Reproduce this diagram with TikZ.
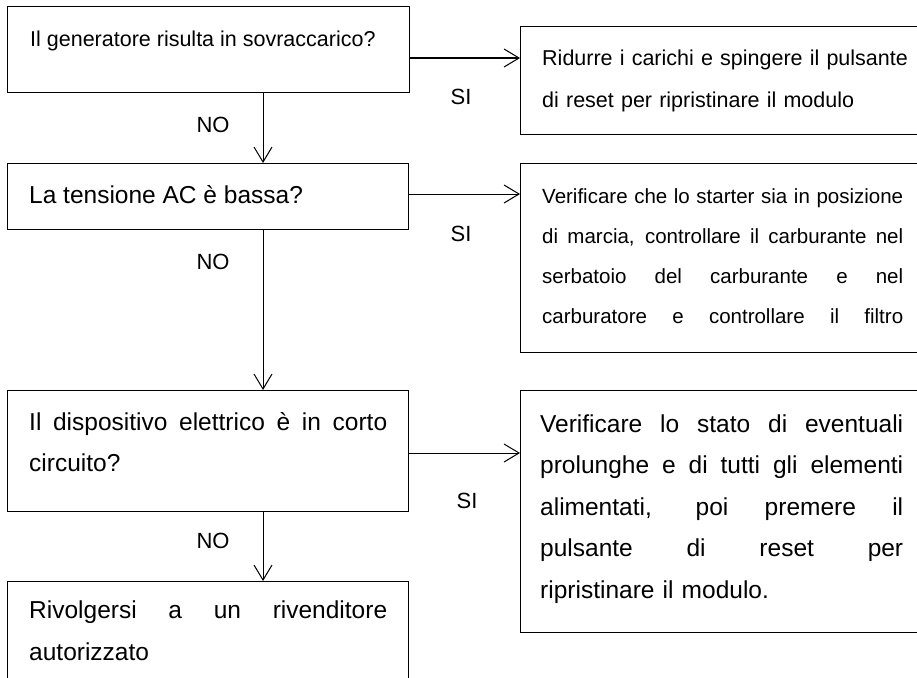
\documentclass[tikz,border=0pt]{standalone}
\usepackage{fontspec}
\setmainfont{Liberation Sans}
\usetikzlibrary{arrows.meta}
\newcommand{\jline}[2]{\leavevmode\hbox to #1{\spaceskip=0.25em plus 1fil\relax #2}}
\begin{document}
\begin{tikzpicture}[x=1pt,y=-1pt,
  box/.style={draw=black, line width=1pt, anchor=north west, inner sep=0pt, outer sep=0pt},
  txt/.style={anchor=base west, inner sep=0pt, align=left},
  small/.style={font=\fontsize{21.5}{42}\selectfont},
  mid/.style={font=\fontsize{20.5}{40}\selectfont},
  big/.style={font=\fontsize{24.5}{41}\selectfont},
  arr/.style={line width=1pt, -{Straight Barb[length=15pt,width=18pt,line width=1pt]}},
  lbl/.style={inner sep=0pt, font=\fontsize{22}{26}\selectfont}]
\useasboundingbox (0,0) rectangle (917,677);
\fill[white] (0,0) rectangle (917,677);
\clip (0,0) rectangle (917,677);

% left column boxes
\node[box, minimum width=402pt, minimum height=85pt] (b1) at (7,7) {};
\node[box, minimum width=401pt, minimum height=66pt] (b2) at (7,163) {};
\node[box, minimum width=401pt, minimum height=121pt] (b3) at (7,390) {};
\node[box, minimum width=401pt, minimum height=150pt] (b4) at (7,581) {};
% right column boxes
\node[box, minimum width=420pt, minimum height=107pt] (r1) at (520,27) {};
\node[box, minimum width=420pt, minimum height=189pt] (r2) at (520,163) {};
\node[box, minimum width=420pt, minimum height=242pt] (r3) at (520,390) {};

% texts
\node[txt, small] (t1) at (30,46) {Il generatore risulta in sovraccarico?};
\node[txt, big] (t2) at (29,203) {La tensione AC è bassa?};
\node[txt, big, text width=380pt] (t3) at (29,430) {\jline{358pt}{Il dispositivo elettrico è in corto}\\circuito?};
\node[txt, text width=380pt, font=\fontsize{24.5}{42}\selectfont] (t4) at (29,618) {\jline{358pt}{Rivolgersi a un rivenditore}\\autorizzato};
\node[txt, small, text width=380pt] (u1) at (542,66) {Ridurre i carichi e spingere il pulsante\\di reset per ripristinare il modulo};
\node[txt, mid, text width=380pt] (u2) at (542,203) {\jline{361pt}{Verificare che lo starter sia in posizione}\\\jline{361pt}{di marcia, controllare il carburante nel}\\\jline{361pt}{serbatoio del carburante e nel}\\\jline{361pt}{carburatore e controllare il filtro}};
\node[txt, text width=380pt, font=\fontsize{24.5}{41.5}\selectfont] (u3) at (540,432) {\jline{363pt}{Verificare lo stato di eventuali}\\\jline{363pt}{prolunghe e di tutti gli elementi}\\\jline{363pt}{alimentati, poi premere il}\\\jline{363pt}{pulsante di reset per}\\ripristinare il modulo.};

% connector helper coordinates
\coordinate (vx) at (263,0);
\coordinate (h1) at (0,58);
\coordinate (h2) at (0,194);
\coordinate (h3) at (0,453);

% connectors
\draw[arr] (b1.east |- h1) -- (r1.west |- h1);
\draw[arr] (b2.east |- h2) -- (r2.west |- h2);
\draw[arr] (b3.east |- h3) -- (r3.west |- h3);
\draw[arr] (b1.south -| vx) -- (b2.north -| vx);
\draw[arr] (b2.south -| vx) -- (b3.north -| vx);
\draw[arr] (b3.south -| vx) -- (b4.north -| vx);

% labels
\node[lbl] (si1) at (461,97) {SI};
\node[lbl] (si2) at (461,234) {SI};
\node[lbl] (si3) at (467,501) {SI};
\node[lbl] (no1) at (213,125) {NO};
\node[lbl] (no2) at (213,262) {NO};
\node[lbl] (no3) at (213,541) {NO};
\end{tikzpicture}
\end{document}
